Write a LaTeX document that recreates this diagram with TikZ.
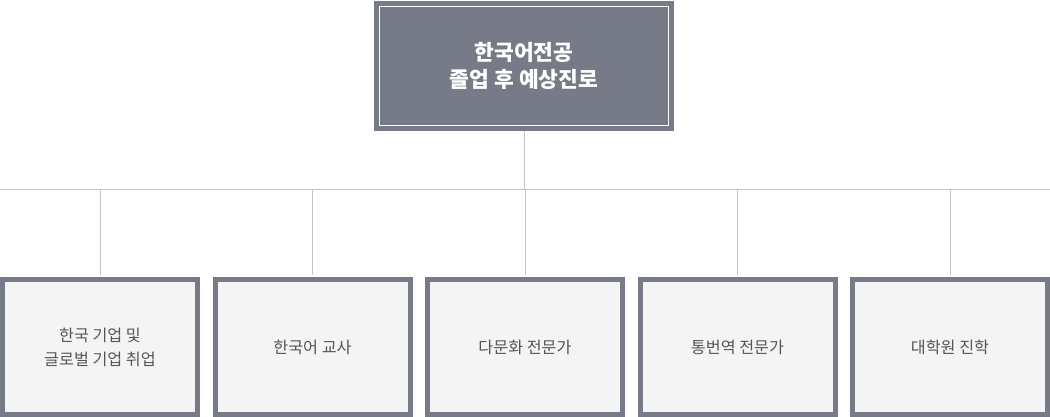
\documentclass[tikz,border=0pt]{standalone}
\usepackage{fontspec}
\newfontfamily\kr{Noto Sans CJK KR}
\definecolor{boxgray}{HTML}{777B87}
\definecolor{boxfill}{HTML}{F4F4F4}
\definecolor{linegray}{HTML}{C4C4C4}
\definecolor{txtgray}{HTML}{555555}
\tikzset{
  topbox/.style={rectangle, fill=boxgray, draw=none, minimum width=300pt, minimum height=130pt, inner sep=0pt, align=center, text=white, font=\kr\bfseries\fontsize{21.5}{27}\selectfont},
  leafbox/.style={rectangle, fill=boxfill, draw=boxgray, line width=5pt, minimum width=195pt, minimum height=135pt, inner sep=0pt, align=center, text=txtgray, font=\kr\fontsize{16.2}{24}\selectfont},
  conn/.style={draw=linegray, line width=1pt}
}
\begin{document}
\begin{tikzpicture}[x=1pt,y=1pt]
\useasboundingbox (0,0) rectangle (1050,-417);
\node[topbox] (top) at (524,-66) {한국어전공\\졸업 후 예상진로};
\draw[white, line width=1pt] ([shift={(5.5pt,-6pt)}]top.north west) rectangle ([shift={(-5.5pt,6pt)}]top.south east);
\coordinate (hl) at (0,-190);
\coordinate (hr) at (1050,-190);
\node[leafbox] (b1) at (100,-347) {한국 기업 및\\글로벌 기업 취업};
\node[leafbox] (b2) at (312.5,-347) {한국어 교사};
\node[leafbox] (b3) at (525,-347) {다문화 전문가};
\node[leafbox] (b4) at (737.5,-347) {통번역 전문가};
\node[leafbox] (b5) at (950,-347) {대학원 진학};
\draw[conn] (hl) -- (hr);
\draw[conn] (top.south) -- (top.south |- hl);
\foreach \b in {b1,b2,b3,b4,b5} {
  \draw[conn] ([yshift=2.5pt]\b.north) -- (\b.north |- hl);
}
\end{tikzpicture}
\end{document}
